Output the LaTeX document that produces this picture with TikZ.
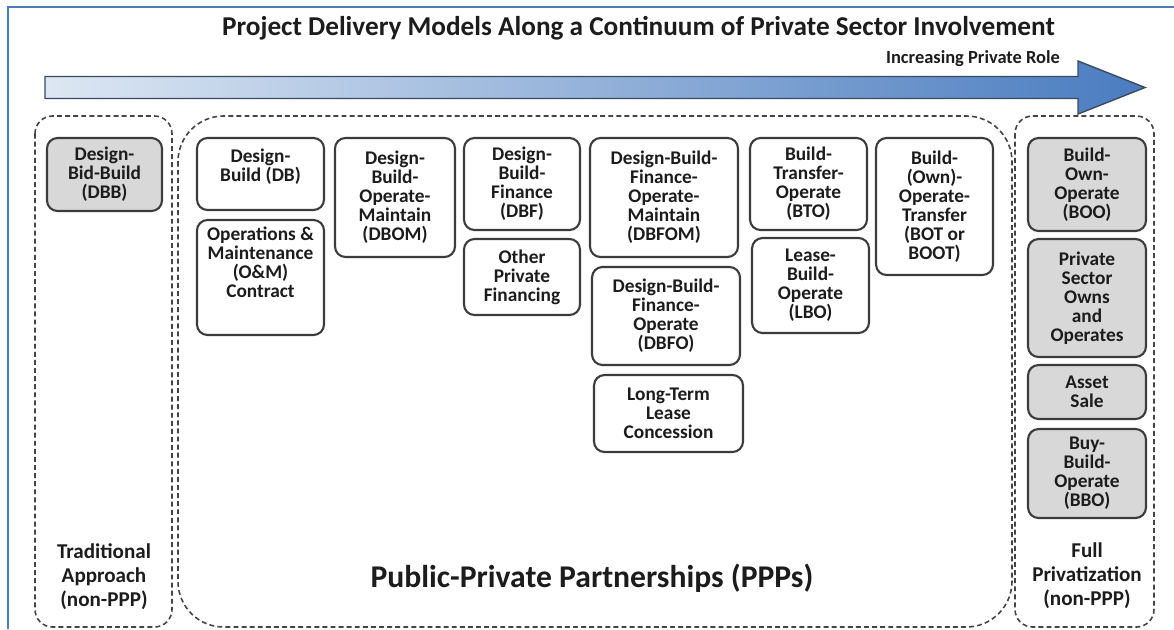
\documentclass[tikz,border=0pt]{standalone}
\usepackage{fontspec}
\setmainfont{Carlito}
\usepackage{tikz}
\usetikzlibrary{shapes}
\usetikzlibrary{arrows}

\definecolor{framebl}{HTML}{4A7EBB}
\definecolor{arrowlight}{HTML}{DDE7F3}
\definecolor{arrowdark}{HTML}{4A7CC0}
\definecolor{arrowedge}{HTML}{3A4A60}
\definecolor{boxgray}{HTML}{3C3C3C}
\definecolor{boxfill}{HTML}{D8D8D8}
\definecolor{grpgray}{HTML}{444444}
\definecolor{txt}{HTML}{1C1C1C}

\newcommand{\titlefont}{\fontsize{15.5}{18}\selectfont\bfseries}
\newcommand{\rolefont}{\fontsize{10.5}{12}\selectfont\bfseries}
\newcommand{\boxfont}{\fontsize{11}{10.8}\selectfont\bfseries}
\newcommand{\grpfont}{\fontsize{12}{13.6}\selectfont\bfseries}
\newcommand{\pppfont}{\fontsize{18}{21}\selectfont\bfseries}

\tikzset{
	model/.style={draw=boxgray, line width=1.2pt, rounded corners=6pt, fill=white,
		align=center, inner sep=0pt, text=txt, font=\boxfont},
	privmodel/.style={model, fill=boxfill},
	group/.style={draw=grpgray, line width=0.9pt, dash pattern=on 2.8pt off 1.8pt}
}

\begin{document}
\begin{tikzpicture}
		\useasboundingbox (0,0) rectangle (23.48,-12.58);

		% frame
		\draw[framebl, line width=1.6pt] (0.16,-12.58) -- (0.16,-0.14) -- (23.48,-0.14);

		% title and arrow
		\node[font=\titlefont, text=txt] (title) at (12.77,-0.56) {Project Delivery Models Along a Continuum of Private Sector Involvement};
		\shade[draw=arrowedge, line width=0.8pt, left color=arrowlight, right color=arrowdark]
			(0.9,-1.53) -- (21.56,-1.53) -- (21.56,-1.22) -- (22.90,-1.75)
			-- (21.56,-2.28) -- (21.56,-1.97) -- (0.9,-1.97) -- cycle;
		\node[font=\rolefont, text=txt] (role) at (19.46,-1.17) {Increasing Private Role};

		% groups
		\draw[group, rounded corners=10pt] (0.70,-2.32) rectangle (3.44,-12.54);
		\draw[group, rounded corners=26pt] (3.56,-2.32) rectangle (20.24,-12.54);
		\draw[group, rounded corners=10pt] (20.30,-2.32) rectangle (23.08,-12.54);

		% Traditional
		\node[privmodel, minimum width=2.30cm, minimum height=1.46cm] (dbb) at (2.09,-3.49) {Design-\\Bid-Build\\(DBB)};

		% PPPs
		\node[model, minimum width=2.54cm, minimum height=1.44cm] (db) at (5.21,-3.48) {};
		\node[font=\boxfont, text=txt, align=center] (dbtext) at (5.21,-3.33) {Design-\\Build (DB)};
		\node[model, minimum width=2.54cm, minimum height=2.30cm] (om) at (5.21,-5.55) {};
		\node[font=\boxfont, text=txt, align=center] (omtext) at (5.21,-5.24) {Operations \&\\Maintenance\\(O\&M)\\Contract};
		\node[model, minimum width=2.40cm, minimum height=2.38cm] (dbom) at (7.90,-3.95) {Design-\\Build-\\Operate-\\Maintain\\(DBOM)};
		\node[model, minimum width=2.32cm, minimum height=1.84cm] (dbf) at (10.44,-3.68) {Design-\\Build-\\Finance\\(DBF)};
		\node[model, minimum width=2.32cm, minimum height=1.52cm] (opf) at (10.44,-5.54) {Other\\Private\\Financing};
		\node[model, minimum width=2.96cm, minimum height=2.38cm] (dbfom) at (13.28,-3.95) {Design-Build-\\Finance-\\Operate-\\Maintain\\(DBFOM)};
		\node[model, minimum width=2.96cm, minimum height=1.96cm] (dbfo) at (13.32,-6.32) {Design-Build-\\Finance-\\Operate\\(DBFO)};
		\node[model, minimum width=2.98cm, minimum height=1.54cm] (ltlc) at (13.37,-8.27) {Long-Term\\Lease\\Concession};
		\node[model, minimum width=2.34cm, minimum height=1.84cm] (bto) at (16.17,-3.68) {Build-\\Transfer-\\Operate\\(BTO)};
		\node[model, minimum width=2.34cm, minimum height=1.90cm] (lbo) at (16.21,-5.71) {Lease-\\Build-\\Operate\\(LBO)};
		\node[model, minimum width=2.34cm, minimum height=2.74cm] (boot) at (18.69,-4.13) {Build-\\(Own)-\\Operate-\\Transfer\\(BOT or\\BOOT)};

		% Full privatization
		\node[privmodel, minimum width=2.36cm, minimum height=1.86cm] (boo) at (21.74,-3.69) {Build-\\Own-\\Operate\\(BOO)};
		\node[privmodel, minimum width=2.36cm, minimum height=2.36cm] (psoo) at (21.74,-5.96) {Private\\Sector\\Owns\\and\\Operates};
		\node[privmodel, minimum width=2.36cm, minimum height=1.08cm] (sale) at (21.74,-7.84) {Asset\\Sale};
		\node[privmodel, minimum width=2.36cm, minimum height=1.78cm] (bbo) at (21.74,-9.47) {Buy-\\Build-\\Operate\\(BBO)};

		% group labels
		\node[font=\grpfont, text=txt, align=center] (tradlbl) at (2.08,-11.54) {Traditional\\Approach\\(non-PPP)};
		\node[font=\pppfont, text=txt] (ppplbl) at (11.84,-11.56) {Public-Private Partnerships (PPPs)};
		\node[font=\grpfont, text=txt, align=center] (fulllbl) at (21.74,-11.52) {Full\\Privatization\\(non-PPP)};
	\end{tikzpicture}
\end{document}
